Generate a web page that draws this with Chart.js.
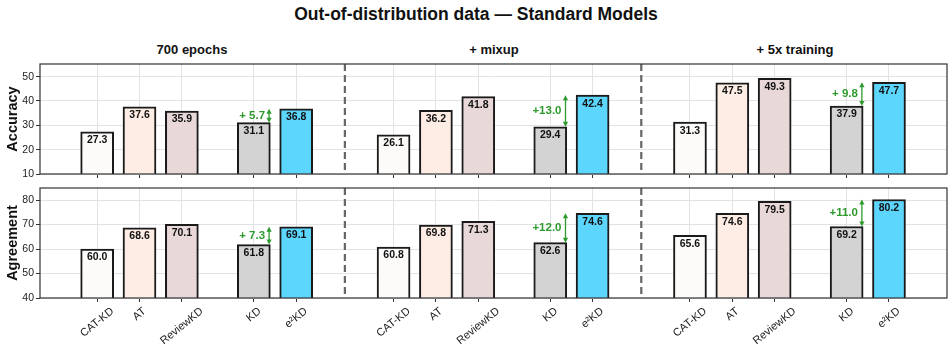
<!DOCTYPE html>
<html>
<head>
<meta charset="utf-8">
<script src="https://cdn.jsdelivr.net/npm/chart.js@4"></script>
<style>
  body { margin: 0; background: #fff; font-family: "Liberation Sans", Arial, sans-serif; }
  #wrap { position: relative; width: 952px; height: 352px; overflow: hidden; }
  .title { position: absolute; font-weight: bold; color: #111; white-space: nowrap; transform: translateX(-50%); }
  canvas { position: absolute; left: 0; }
</style>
</head>
<body>
<div id="wrap">
  <div class="title" style="left:476px; top:4px; font-size:17.5px;">Out-of-distribution data — Standard Models</div>
  <div class="title" id="g0" style="left:192px; top:42px; font-size:13px;"></div>
  <div class="title" id="g1" style="left:494px; top:42px; font-size:13px;"></div>
  <div class="title" id="g2" style="left:795px; top:42px; font-size:13px;"></div>
  <div style="position:absolute; left:0; top:56px; width:952px; height:124px;"><canvas id="accChart"></canvas></div>
  <div style="position:absolute; left:0; top:180px; width:952px; height:172px;"><canvas id="agrChart"></canvas></div>
</div>
<script>
var groups = ['700 epochs', '+ mixup', '+ 5x training'];
var methods = ['CAT-KD', 'AT', 'ReviewKD', 'KD', 'e²KD'];
// rows = groups, columns = methods
var accuracy = [
  [27.3, 37.6, 35.9, 31.1, 36.8],
  [26.1, 36.2, 41.8, 29.4, 42.4],
  [31.3, 47.5, 49.3, 37.9, 47.7]
];
var agreement = [
  [60.0, 68.6, 70.1, 61.8, 69.1],
  [60.8, 69.8, 71.3, 62.6, 74.6],
  [65.6, 74.6, 79.5, 69.2, 80.2]
];
var accTicks = [10, 20, 30, 40, 50];
var agrTicks = [40, 50, 60, 70, 80];

// layout of bars on the x axis
var slot = [0, 1, 2, 3.7, 4.7];
var groupStep = 7;
var colors = ['#fcfbf9', '#fdede5', '#e8d8d8', '#d3d3d3', '#5dd6fd'];
var green = '#2e9a2e';
var FONT = '"Liberation Sans", Arial, sans-serif';

groups.forEach(function(g, i){ document.getElementById('g' + i).textContent = g; });

var xPos = [];
var barColors = [];
for (var g = 0; g < groups.length; g++) {
  for (var m = 0; m < methods.length; m++) {
    xPos.push(g * groupStep + slot[m]);
    barColors.push(colors[m]);
  }
}

function points(values) {
  var out = [];
  for (var g = 0; g < values.length; g++) {
    for (var m = 0; m < values[g].length; m++) {
      out.push({x: g * groupStep + slot[m], y: values[g][m]});
    }
  }
  return out;
}

var extras = {
  id: 'extras',
  beforeDatasetsDraw: function(chart) {
    var ctx = chart.ctx, xs = chart.scales.x, a = chart.chartArea;
    // dashed separators between groups
    ctx.save();
    ctx.strokeStyle = '#666';
    ctx.lineWidth = 2.2;
    ctx.setLineDash([7, 4]);
    for (var g = 1; g < groups.length; g++) {
      var px = xs.getPixelForValue(g * groupStep - 1.15);
      ctx.beginPath();
      ctx.moveTo(px, a.top);
      ctx.lineTo(px, a.bottom);
      ctx.stroke();
    }
    ctx.restore();
  },
  afterDatasetsDraw: function(chart) {
    var ctx = chart.ctx, xs = chart.scales.x, ys = chart.scales.y, a = chart.chartArea;
    var opts = chart.options.plugins.extras;
    var vals = opts.values;
    var meta = chart.getDatasetMeta(0);
    ctx.save();
    // values inside bar tops
    ctx.fillStyle = '#111';
    ctx.font = 'bold 10.5px ' + FONT;
    ctx.textAlign = 'center';
    ctx.textBaseline = 'middle';
    meta.data.forEach(function(el, i) {
      var v = chart.data.datasets[0].data[i].y;
      ctx.fillText(v.toFixed(1), el.x, el.y + 8.5);
    });
    // green improvement arrows
    for (var g = 0; g < vals.length; g++) {
      var kd = vals[g][3], e2 = vals[g][4];
      var ax = xs.getPixelForValue(g * groupStep + slot[3] + 0.36);
      var y1 = ys.getPixelForValue(kd), y2 = ys.getPixelForValue(e2);
      ctx.strokeStyle = green;
      ctx.fillStyle = green;
      ctx.lineWidth = 1.3;
      ctx.beginPath();
      ctx.moveTo(ax, y1 - 4);
      ctx.lineTo(ax, y2 + 4);
      ctx.stroke();
      ctx.beginPath();
      ctx.moveTo(ax, y2); ctx.lineTo(ax - 2.6, y2 + 5); ctx.lineTo(ax + 2.6, y2 + 5); ctx.closePath();
      ctx.fill();
      ctx.beginPath();
      ctx.moveTo(ax, y1); ctx.lineTo(ax - 2.6, y1 - 5); ctx.lineTo(ax + 2.6, y1 - 5); ctx.closePath();
      ctx.fill();
      var d = (e2 - kd).toFixed(1);
      var txt = '+' + (d.length < 4 ? ' ' + d : d);
      ctx.font = 'bold 11.5px ' + FONT;
      ctx.textAlign = 'right';
      ctx.fillText(txt, ax - 4, (y1 + y2) / 2);
    }
    // frame
    ctx.strokeStyle = '#333';
    ctx.lineWidth = 1.2;
    ctx.strokeRect(a.left, a.top, a.right - a.left, a.bottom - a.top);
    // rotated category labels, centred under each tick
    if (opts.labels) {
      var ang = 39 * Math.PI / 180;
      var c = Math.cos(ang);
      ctx.fillStyle = '#222';
      ctx.font = '11px ' + FONT;
      ctx.textAlign = 'right';
      ctx.textBaseline = 'middle';
      xPos.forEach(function(v, i) {
        var label = methods[i % methods.length];
        var w = ctx.measureText(label).width;
        var tx = xs.getPixelForValue(v) + w * c / 2;
        var ty = a.bottom + 12;
        ctx.save();
        ctx.translate(tx, ty);
        ctx.rotate(-ang);
        ctx.fillText(label, 0, 0);
        ctx.restore();
      });
    }
    ctx.restore();
  }
};

function makeChart(id, values, ticks, yMin, yMax, yTitle, showLabels, xHeight) {
  return new Chart(document.getElementById(id), {
    type: 'bar',
    data: {
      datasets: [{
        data: points(values),
        backgroundColor: barColors,
        borderColor: '#1a1a1a',
        borderWidth: 2,
        borderSkipped: 'start',
        barThickness: 33
      }]
    },
    options: {
      responsive: true,
      maintainAspectRatio: false,
      animation: false,
      layout: { padding: { top: 8, right: 5, left: 0, bottom: 0 } },
      plugins: {
        legend: { display: false },
        tooltip: { enabled: false },
        extras: { values: values, labels: showLabels }
      },
      scales: {
        x: {
          type: 'linear',
          offset: false,
          min: -1.35,
          max: 2 * groupStep + slot[4] + 1.37,
          afterBuildTicks: function(s) { s.ticks = xPos.map(function(v){ return {value: v}; }); },
          afterFit: function(s) { s.height = xHeight; s.paddingLeft = 0; s.paddingRight = 0; },
          grid: { color: '#e3e3e3', lineWidth: 1, tickLength: 4, tickColor: '#333', offset: false },
          border: { display: false },
          ticks: { display: false }
        },
        y: {
          min: yMin,
          max: yMax,
          afterBuildTicks: function(s) { s.ticks = ticks.map(function(v){ return {value: v}; }); },
          afterFit: function(s) { s.width = 40; s.paddingTop = 0; s.paddingBottom = 0; },
          grid: { color: '#e3e3e3', lineWidth: 1, tickLength: 4, tickColor: '#333' },
          border: { display: false },
          ticks: {
            color: '#222',
            padding: 2,
            font: { size: 10.5, family: FONT }
          },
          title: {
            display: true,
            text: yTitle,
            color: '#111',
            padding: { top: 4, bottom: 0 },
            font: { size: 14.5, weight: 'bold', family: FONT }
          }
        }
      }
    },
    plugins: [extras]
  });
}

makeChart('accChart', accuracy, accTicks, 10, 55.2, 'Accuracy', false, 6);
makeChart('agrChart', agreement, agrTicks, 40, 84.9, 'Agreement', true, 54);
</script>
</body>
</html>
